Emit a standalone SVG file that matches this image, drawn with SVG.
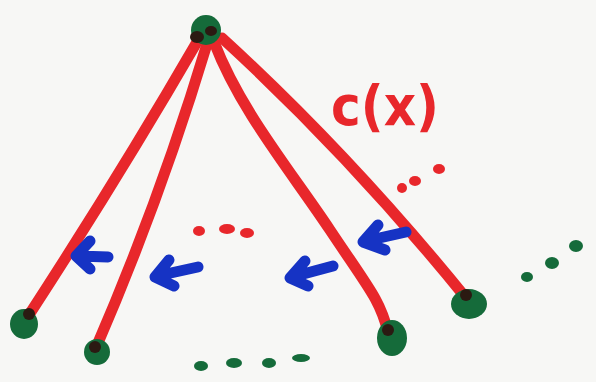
<svg xmlns="http://www.w3.org/2000/svg" width="596" height="382" viewBox="0 0 596 382">
  <defs>
    <style>
      .edge { fill: none; stroke: #e8272b; stroke-width: 11; stroke-linecap: round; stroke-linejoin: round; }
      .node { fill: #156b3a; }
      .ink { fill: #2b1a12; }
      .dot-red { fill: #e8272b; }
      .dot-green { fill: #156b3a; }
      .arrow { fill: none; stroke: #1633c4; stroke-width: 11; stroke-linecap: round; stroke-linejoin: round; }
      .label { font-family: "DejaVu Sans", "Liberation Sans", sans-serif; font-weight: bold; fill: #e8272b; }
    </style>
  </defs>
  <rect width="596" height="382" fill="#f7f7f5"/>

  <!-- edges from the root -->
  <g id="connectors">
    <path class="edge" d="M197,42 Q120,175 27,318"/>
    <path class="edge" d="M207,44 Q160,200 95,350"/>
    <path class="edge" d="M214,42 C240,110 290,170 330,230 S380,300 388,332"/>
    <path class="edge" d="M222,38 Q350,155 466,298"/>
  </g>

  <!-- root -->
  <g id="root">
    <circle class="node" cx="206" cy="30" r="15"/>
    <ellipse class="ink" cx="197" cy="37" rx="7" ry="6"/>
    <ellipse class="ink" cx="211" cy="31" rx="6" ry="5"/>
  </g>

  <!-- leaves -->
  <g id="leaf1">
    <ellipse class="node" cx="24" cy="324" rx="14" ry="15"/>
    <circle class="ink" cx="29" cy="314" r="6"/>
  </g>
  <g id="leaf2">
    <ellipse class="node" cx="97" cy="352" rx="13" ry="13"/>
    <circle class="ink" cx="95" cy="347" r="6"/>
  </g>
  <g id="leaf3">
    <ellipse class="node" cx="392" cy="338" rx="15" ry="18"/>
    <circle class="ink" cx="388" cy="330" r="6"/>
  </g>
  <g id="leaf4">
    <ellipse class="node" cx="469" cy="304" rx="18" ry="15"/>
    <circle class="ink" cx="466" cy="295" r="6"/>
  </g>

  <!-- label -->
  <text class="label" x="331" y="125" font-size="56" textLength="108" lengthAdjust="spacingAndGlyphs">c(x)</text>

  <!-- ellipsis dots -->
  <g id="dots">
    <ellipse class="dot-red" cx="402" cy="188" rx="5" ry="5"/>
    <ellipse class="dot-red" cx="415" cy="181" rx="6" ry="5"/>
    <ellipse class="dot-red" cx="439" cy="169" rx="6" ry="5"/>
    <ellipse class="dot-red" cx="199" cy="231" rx="6" ry="5"/>
    <ellipse class="dot-red" cx="227" cy="229" rx="8" ry="5"/>
    <ellipse class="dot-red" cx="247" cy="233" rx="7" ry="5"/>
    <ellipse class="dot-green" cx="201" cy="366" rx="7" ry="5"/>
    <ellipse class="dot-green" cx="234" cy="363" rx="8" ry="5"/>
    <ellipse class="dot-green" cx="269" cy="363" rx="7" ry="5"/>
    <ellipse class="dot-green" cx="301" cy="358" rx="9" ry="4"/>
    <ellipse class="dot-green" cx="527" cy="277" rx="6" ry="5"/>
    <ellipse class="dot-green" cx="552" cy="263" rx="7" ry="6"/>
    <ellipse class="dot-green" cx="576" cy="246" rx="7" ry="6"/>
  </g>

  <!-- arrows -->
  <g id="arrows">
    <path class="arrow" d="M90,241 L76,256 L90,269 M78,256 L108,257"/>
    <path class="arrow" d="M169,260 L155,277 L174,286 M157,276 L198,267"/>
    <path class="arrow" d="M305,261 L290,278 L308,286 M292,277 L333,266"/>
    <path class="arrow" d="M378,225 L363,242 L385,250 M366,241 L406,232"/>
  </g>
</svg>
